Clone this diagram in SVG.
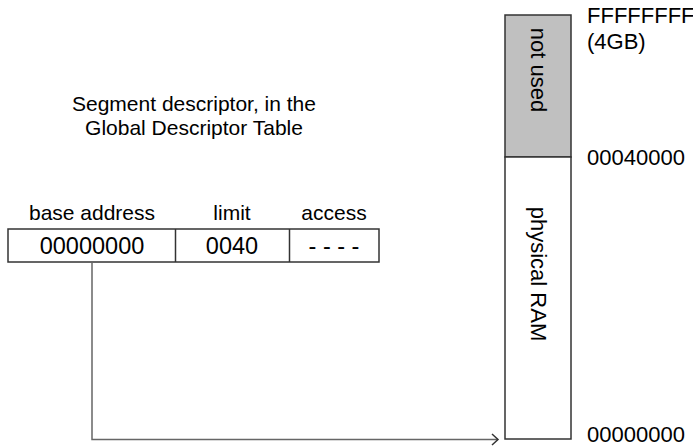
<svg xmlns="http://www.w3.org/2000/svg" width="693" height="447" viewBox="0 0 693 447">
<defs>
<style>
text{font-family:"Liberation Sans",Arial,sans-serif;font-size:21px;fill:#000}
.c{text-anchor:middle}
.v{font-size:23.5px}
.a{font-size:22px}
.box{fill:#fff;stroke:#333;stroke-width:1.5}
.used{fill:#c0c0c0;stroke:#333;stroke-width:1.5}
.conn{fill:none;stroke:#666;stroke-width:1.5}
</style>
<marker id="arr" markerWidth="12" markerHeight="14" refX="10" refY="7" orient="auto" markerUnits="userSpaceOnUse">
<path d="M4,1.5 L10,7 L4,12.5" fill="none" stroke="#333" stroke-width="1.5"/>
</marker>
</defs>
<rect width="693" height="447" fill="#fff"/>
<g id="title">
<text class="c" x="194" y="111">Segment descriptor, in the</text>
<text class="c" x="194" y="135">Global Descriptor Table</text>
</g>
<g id="descriptor">
<text class="c" x="92" y="220">base address</text>
<text class="c" x="232" y="220">limit</text>
<text class="c" x="334" y="220">access</text>
<rect class="box" x="8" y="229" width="371" height="33"/>
<line class="box" x1="175.5" y1="229" x2="175.5" y2="262"/>
<line class="box" x1="289.5" y1="229" x2="289.5" y2="262"/>
<text class="c v" x="92" y="254">00000000</text>
<text class="c v" x="232" y="254">0040</text>
<text class="c v" x="334" y="254">- - - -</text>
</g>
<g id="memory">
<rect class="used" x="505" y="15" width="66" height="142"/>
<rect class="box" x="505" y="157" width="66" height="282"/>
<text class="c a" transform="translate(538,70) rotate(90)" dominant-baseline="central">not used</text>
<text class="c a" transform="translate(538,274) rotate(90)" dominant-baseline="central">physical RAM</text>
</g>
<g id="addresses">
<text class="a" x="587" y="23">FFFFFFFF</text>
<text class="a" x="587" y="49">(4GB)</text>
<text class="a" x="587" y="165">00040000</text>
<text class="a" x="587" y="442">00000000</text>
</g>
<g id="connectors">
<path class="conn" d="M92,262 V439.5 H498" marker-end="url(#arr)"/>
</g>
</svg>
